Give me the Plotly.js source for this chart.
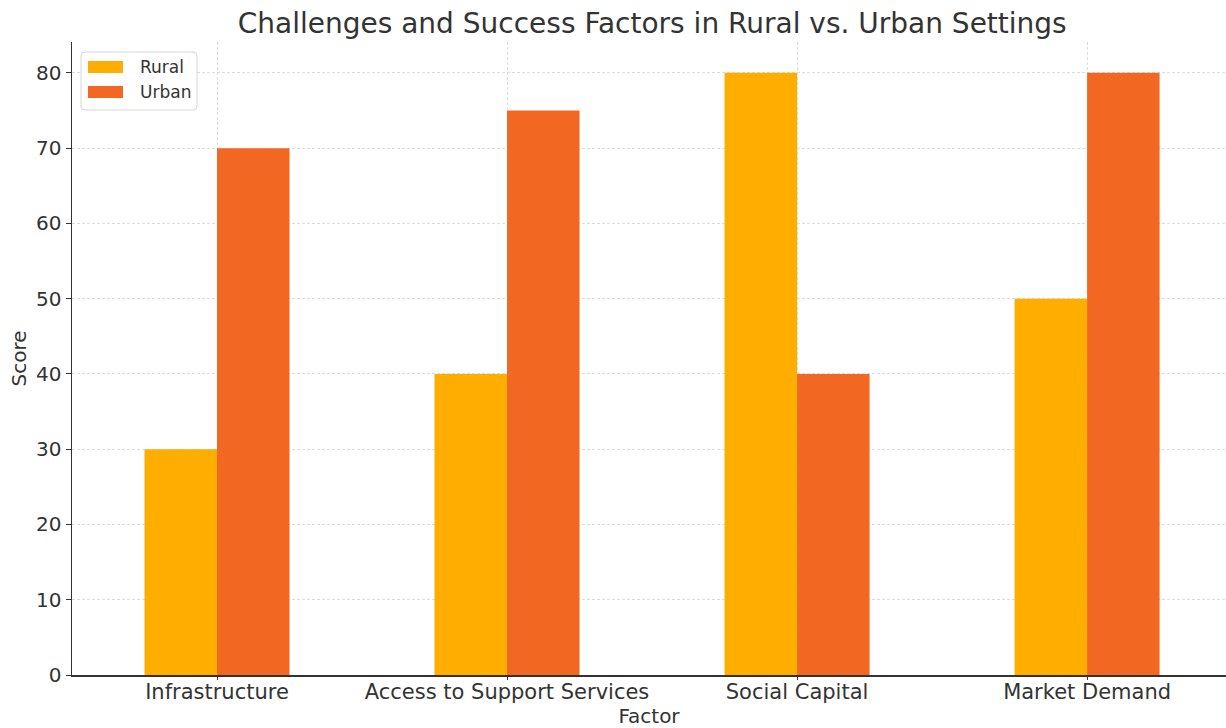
<!DOCTYPE html>
<html>
<head>
<meta charset="utf-8">
<script src="https://cdn.plot.ly/plotly-3.0.1.min.js"></script>
<style>html,body{margin:0;padding:0;background:#fff;}#chart{width:1226px;height:728px;}</style>
</head>
<body>
<div id="chart"></div>
<script>
const factors = ["Infrastructure", "Access to Support Services", "Social Capital", "Market Demand"];
const rural = [30, 40, 80, 50];
const urban = [70, 75, 40, 80];
const yTicks = [0, 10, 20, 30, 40, 50, 60, 70, 80];
const seriesNames = ["Rural", "Urban"];
const seriesColors = ["#FFAE00", "#F26822"];

const font = "DejaVu Sans, sans-serif";
const traces = [
  {type: "bar", name: seriesNames[0], x: factors, y: rural, marker: {color: seriesColors[0], line: {width: 0}}, showlegend: false},
  {type: "bar", name: seriesNames[1], x: factors, y: urban, marker: {color: seriesColors[1], line: {width: 0}}, showlegend: false}
];

// custom legend (matplotlib-like wide swatches), placed in plot-area paper coordinates
const W = 1154, H = 633;
const px = v => v / W, py = v => 1 - v / H;
const shapes = [];
const annotations = [];
(function () {
  const x0 = px(9), x1 = px(125), y0 = py(68), y1 = py(10);
  const rx = px(4), ry = 4 / H;
  shapes.push({
    type: "path", xref: "paper", yref: "paper",
    path: `M ${x0 + rx} ${y1} L ${x1 - rx} ${y1} Q ${x1} ${y1} ${x1} ${y1 - ry} L ${x1} ${y0 + ry} Q ${x1} ${y0} ${x1 - rx} ${y0} L ${x0 + rx} ${y0} Q ${x0} ${y0} ${x0} ${y0 + ry} L ${x0} ${y1 - ry} Q ${x0} ${y1} ${x0 + rx} ${y1} Z`,
    fillcolor: "rgba(255,255,255,0.85)", line: {color: "#d6d6d6", width: 1}, layer: "above"
  });
  seriesNames.forEach((name, i) => {
    const cy = 25 + i * 25;
    shapes.push({type: "rect", xref: "paper", yref: "paper",
      x0: px(16), x1: px(51), y0: py(cy + 6), y1: py(cy - 6),
      fillcolor: seriesColors[i], line: {width: 0}, layer: "above"});
    annotations.push({xref: "paper", yref: "paper", x: px(66), y: py(cy),
      xanchor: "left", yanchor: "middle", showarrow: false, text: name,
      font: {size: 17, color: "#333", family: font}});
  });
})();

const layout = {
  width: 1226, height: 728,
  margin: {l: 72, r: 0, t: 42, b: 53},
  paper_bgcolor: "#fff", plot_bgcolor: "#fff",
  font: {family: font, color: "#333", size: 20},
  title: {text: "Challenges and Success Factors in Rural vs. Urban Settings",
          font: {size: 28, color: "#333"}, x: 0.532, xanchor: "center", y: 0.968, yanchor: "middle"},
  barmode: "group", bargap: 0.5, bargroupgap: 0,
  xaxis: {
    range: [-0.5, 3.479],
    showline: true, linecolor: "#333", linewidth: 1.5,
    ticks: "outside", ticklen: 3, tickcolor: "#333",
    showgrid: true, gridcolor: "#dcdcdc", griddash: "3px,2px", gridwidth: 1,
    tickfont: {size: 21, color: "#333"},
    ticklabelstandoff: -6,
    title: {text: "Factor", font: {size: 20, color: "#333"}, standoff: 6}
  },
  yaxis: {
    range: [0, 84.1],
    tickvals: yTicks,
    showline: true, linecolor: "#333", linewidth: 1.5,
    ticks: "outside", ticklen: 5, tickcolor: "#333",
    showgrid: true, gridcolor: "#dcdcdc", griddash: "3px,2px", gridwidth: 1,
    zeroline: false,
    tickfont: {size: 20, color: "#333"},
    title: {text: "Score", font: {size: 20, color: "#333"}, standoff: 4}
  },
  shapes: shapes,
  annotations: annotations,
  showlegend: false
};
Plotly.newPlot("chart", traces, layout, {displayModeBar: false, staticPlot: true});
</script>
</body>
</html>
